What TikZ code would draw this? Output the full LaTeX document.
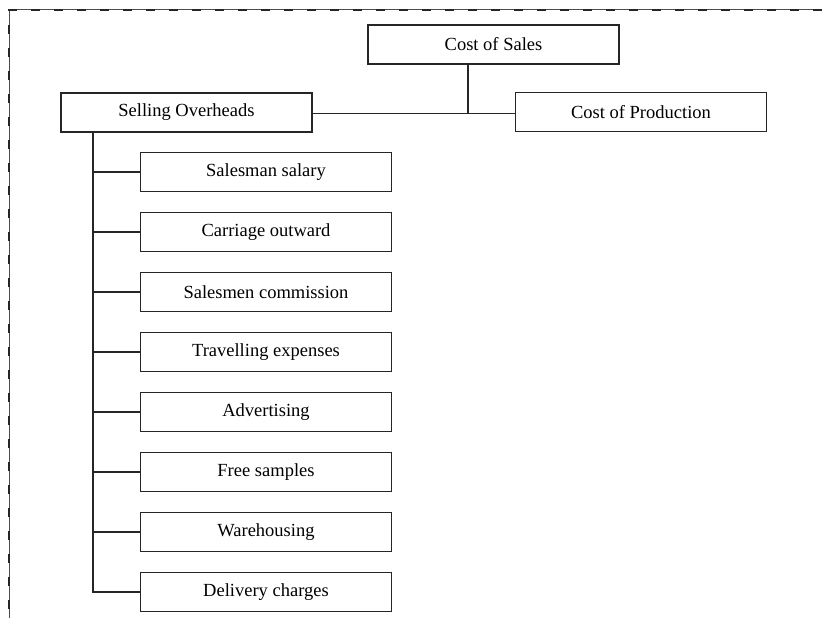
\documentclass[tikz,border=0pt]{standalone}
\usepackage{fontspec}
\setmainfont{Liberation Serif}
\begin{document}
\begin{tikzpicture}[x=1pt,y=-1pt,
  box/.style={draw=black!85, line width=1.7pt, rectangle, minimum width=251pt,
    minimum height=39pt, inner sep=0pt, text=black,
    font=\fontsize{18.5}{21}\selectfont},
  link/.style={draw=black!85, line width=1.9pt},
  frameline/.style={draw=black!70, line width=1pt},
  framedash/.style={draw=black!85, line width=1.8pt, dash pattern=on 9pt off 14pt}]
\useasboundingbox (0,0) rectangle (822,618);

% outer frame (top and left edges)
\draw[frameline] (822,10) -- (9,10) -- (9,618);
\draw[framedash] (822,10) -- (9,10) -- (9,618);

% top level
\node[box] (cos) at (493.5,44.5) {Cost of Sales};
\node[box] (so)  at (186.5,112.5) {Selling Overheads};
\node[box] (cop) at (641,112) {Cost of Production};

\coordinate (j) at (468,113.5);
\draw[link] (so.east |- j) -- (cop.west |- j);
\draw[link] (cos.south -| j) -- (j);

% selling overhead items
\foreach \name/\txt [count=\i from 0] in {
  s1/Salesman salary, s2/Carriage outward, s3/Salesmen commission,
  s4/Travelling expenses, s5/Advertising, s6/Free samples,
  s7/Warehousing, s8/Delivery charges}{
  \node[box] (\name) at (266,172+60*\i) {\txt};
}

\coordinate (top) at (93,132);
\draw[link] (top) -- (top |- s8.west) -- (s8.west);
\foreach \name in {s1,s2,s3,s4,s5,s6,s7}{
  \draw[link] (top |- \name.west) -- (\name.west);
}
\end{tikzpicture}
\end{document}
